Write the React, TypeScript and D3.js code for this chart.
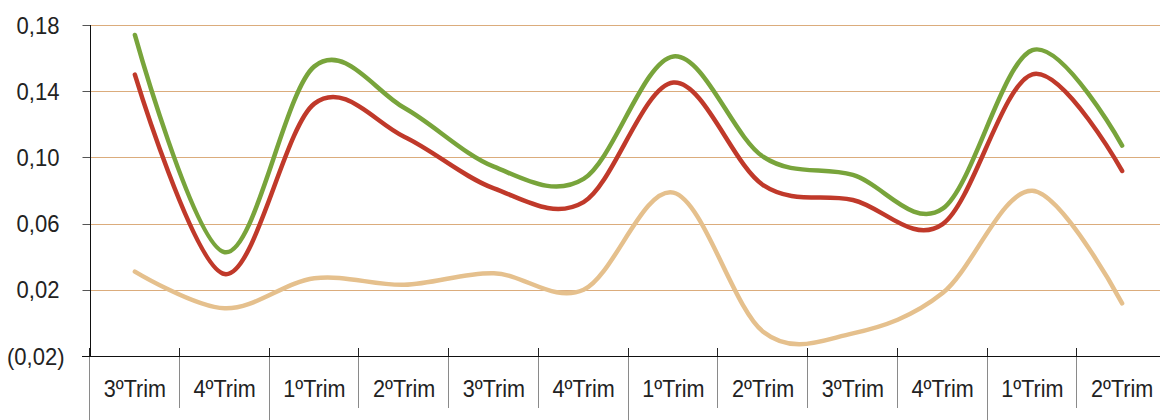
import React from "react";
import * as d3 from "d3";

const categories = ["3ºTrim", "4ºTrim", "1ºTrim", "2ºTrim", "3ºTrim", "4ºTrim", "1ºTrim", "2ºTrim", "3ºTrim", "4ºTrim", "1ºTrim", "2ºTrim"];
const greenSeries = [0.174, 0.0427, 0.155, 0.13, 0.0944, 0.087, 0.161, 0.1004, 0.0894, 0.069, 0.1648, 0.1071];
const redSeries = [0.15, 0.0295, 0.1325, 0.1125, 0.0813, 0.073, 0.1452, 0.0833, 0.0743, 0.0597, 0.1502, 0.0918];
const tanSeries = [0.031, 0.0088, 0.027, 0.023, 0.03, 0.02, 0.0787, -0.0053, -0.0063, 0.018, 0.0799, 0.0118];
const tickValues = [-0.02, 0.02, 0.06, 0.1, 0.14, 0.18];
const tickLabels = ["(0,02)", "0,02", "0,06", "0,10", "0,14", "0,18"];
const yearStarts = [0, 2, 6, 10];

const W = 1160;
const H = 420;
const left = 90;
const bandW = 89.75;
const top = 25;
const bottom = 356;

export default function App() {
  const idx = categories.map((_, i) => i);
  const x = d3.scaleBand<number>().domain(idx).range([left, left + bandW * categories.length]).padding(0);
  const y = d3.scaleLinear().domain([-0.02, 0.18]).range([bottom, top]);
  const cx = (i: number) => (x(i) as number) + x.bandwidth() / 2;
  const line = d3
    .line<number>()
    .x((_, i) => cx(i))
    .y((d) => y(d))
    .curve(d3.curveCardinal.tension(0));

  const series = [
    { data: tanSeries, color: "#e5c08d" },
    { data: redSeries, color: "#c0392a" },
    { data: greenSeries, color: "#78a43b" },
  ];
  const font = "'Liberation Sans', Arial, sans-serif";
  const boundaries = d3.range(categories.length + 1);

  return (
    <svg width={W} height={H} style={{ position: "absolute", left: 0, top: 0, display: "block", background: "#fff" }}>
      {tickValues.map((v, i) =>
        i === 0 ? null : (
          <line key={"g" + i} x1={left} x2={W} y1={Math.round(y(v)) + 0.5} y2={Math.round(y(v)) + 0.5} stroke="#dbac7c" strokeWidth={1} />
        )
      )}
      {tickValues.map((v, i) => (
        <line key={"t" + i} x1={82.5} x2={left} y1={Math.round(y(v)) + 0.5} y2={Math.round(y(v)) + 0.5} stroke="#555" strokeWidth={1} />
      ))}
      {tickValues.map((v, i) => (
        <text
          key={"l" + i}
          transform={`translate(${i === 0 ? 64.5 : 59.5},${y(v)}) scale(0.9,1)`}
          dy="0.35em"
          textAnchor="end"
          fontFamily={font}
          fontSize={24.5}
          fill="#222"
        >
          {tickLabels[i]}
        </text>
      ))}
      {boundaries.map((b) => {
        const bx = Math.round(left + bandW * b) - 0.5;
        const long = yearStarts.includes(b);
        return (
          <g key={"b" + b}>
            <line x1={bx} x2={bx} y1={bottom} y2={long ? H : 408} stroke="#8a8a8a" strokeWidth={1} />
            <line x1={bx} x2={bx} y1={348} y2={bottom} stroke="#222" strokeWidth={1} />
          </g>
        );
      })}
      <line x1={left + 0.5} x2={left + 0.5} y1={top} y2={bottom} stroke="#111" strokeWidth={1} />
      <line x1={82} x2={W} y1={bottom + 0.5} y2={bottom + 0.5} stroke="#111" strokeWidth={1} />
      {categories.map((c, i) => (
        <text
          key={"c" + i}
          transform={`translate(${cx(i)},388.7) scale(0.9,1)`}
          dy="0.35em"
          textAnchor="middle"
          fontFamily={font}
          fontSize={24}
          fill="#222"
        >
          {c}
        </text>
      ))}
      {series.map((s, i) => (
        <path key={"s" + i} d={line(s.data) || ""} fill="none" stroke={s.color} strokeWidth={4.5} strokeLinecap="round" strokeLinejoin="round" />
      ))}
    </svg>
  );
}
